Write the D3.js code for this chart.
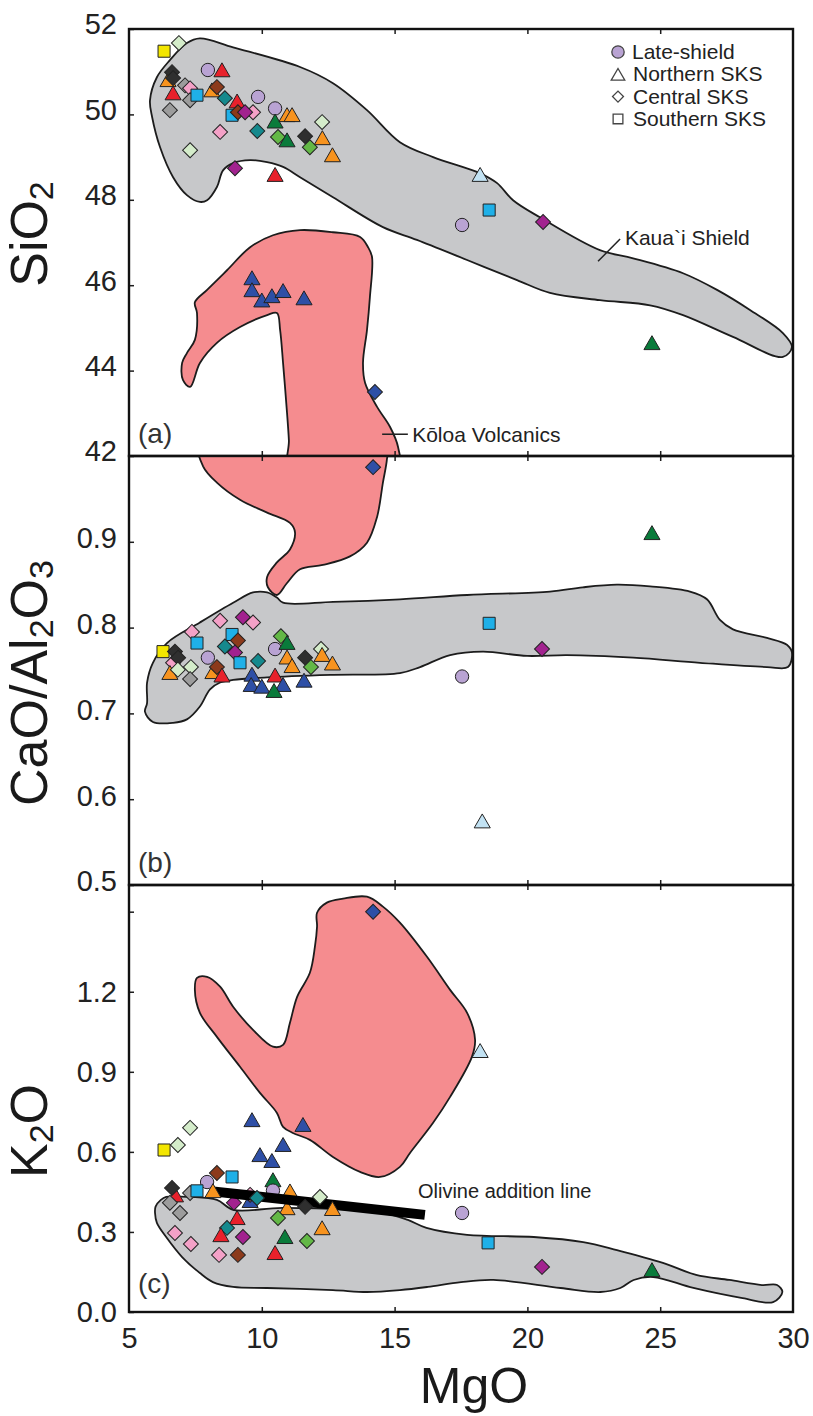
<!DOCTYPE html>
<html>
<head>
<meta charset="utf-8">
<script src="https://cdn.jsdelivr.net/npm/d3@7"></script>
<style>
  body { margin: 0; background: #fff; }
  svg { display: block; font-family: 'Liberation Sans', Arial, sans-serif; }
</style>
</head>
<body>
<div id="chart"></div>
<script>
// ---- axis ticks ----
const mgoTicks = [5, 10, 15, 20, 25, 30];
const sio2Ticks = [42, 44, 46, 48, 50, 52];
const caoTicks = [0.5, 0.6, 0.7, 0.8, 0.9];
const k2oTicks = [0.0, 0.3, 0.6, 0.9, 1.2, 1.5];
const k2oLabels = [0.0, 0.3, 0.6, 0.9, 1.2];

// ---- legend ----
const legendKeys = ['L', 'N', 'C', 'S'];
const legendNames = ['Late-shield', 'Northern SKS', 'Central SKS', 'Southern SKS'];

// ---- fields (MgO, value) ----
const shieldSiO2 = [[7.67,51.78],[8.92,51.57],[11.44,51.11],[12.68,50.73],[13.96,50.10],[15.20,49.35],[16.45,49.00],[18.22,48.62],[18.86,48.39],[19.46,47.99],[20.47,47.59],[22.73,46.82],[23.98,46.63],[25.86,46.28],[27.14,45.89],[28.38,45.42],[29.62,44.88],[29.96,44.55],[29.62,44.32],[27.74,44.79],[25.86,45.30],[24.62,45.53],[22.73,45.65],[20.85,45.82],[19.61,46.12],[17.73,46.59],[15.84,47.06],[14.56,47.36],[12.68,48.06],[11.44,48.53],[10.80,48.77],[10.20,48.88],[9.56,48.93],[8.92,48.86],[8.54,48.69],[8.31,48.30],[7.94,47.99],[7.67,47.95],[7.18,48.11],[6.66,48.53],[6.17,49.23],[5.87,49.94],[5.79,50.33],[6.05,50.87],[6.54,51.27],[7.18,51.67]];
const koloaSiO2 = [[11.44,47.29],[12.68,47.24],[13.70,47.13],[14.00,46.89],[14.15,46.66],[14.07,45.72],[13.96,44.95],[13.81,44.18],[13.89,43.71],[14.34,43.15],[14.83,42.68],[15.13,42.21],[15.13,41.60],[11.06,41.60],[11.02,42.37],[10.95,43.01],[10.80,44.18],[10.69,44.95],[10.57,45.35],[10.20,45.30],[9.18,45.02],[8.31,44.65],[7.67,44.18],[7.30,43.62],[7.03,43.78],[7.00,44.18],[7.18,44.41],[7.48,44.72],[7.56,45.35],[7.48,45.60],[7.94,45.89],[8.69,46.35],[9.56,46.89],[10.42,47.17]];
const shieldCaO = [[5.68,0.712],[5.60,0.702],[5.90,0.690],[6.66,0.689],[7.18,0.693],[7.67,0.708],[8.05,0.728],[8.43,0.736],[8.92,0.739],[10.20,0.742],[12.68,0.745],[15.20,0.747],[15.96,0.754],[17.09,0.768],[18.33,0.772],[19.99,0.767],[21.49,0.768],[23.98,0.765],[26.50,0.759],[29.02,0.754],[29.81,0.754],[29.96,0.771],[29.77,0.780],[29.02,0.788],[27.74,0.798],[27.25,0.809],[26.76,0.833],[26.12,0.842],[24.62,0.848],[23.37,0.850],[22.09,0.847],[20.85,0.842],[17.73,0.838],[15.20,0.833],[12.68,0.830],[10.80,0.829],[10.57,0.835],[10.20,0.841],[9.67,0.841],[8.92,0.829],[7.67,0.806],[6.43,0.782],[5.90,0.759],[5.68,0.736]];
const koloaCaO = [[7.67,1.013],[7.79,0.988],[8.31,0.969],[9.18,0.949],[10.20,0.934],[11.06,0.922],[11.25,0.911],[11.06,0.891],[10.57,0.876],[10.20,0.859],[10.23,0.847],[10.57,0.838],[10.95,0.852],[11.44,0.868],[12.30,0.873],[13.32,0.883],[13.96,0.899],[14.34,0.929],[14.56,0.969],[14.71,0.996],[14.71,1.013]];
const shieldK2O = [[6.00,0.395],[6.20,0.420],[6.40,0.431],[7.30,0.431],[8.31,0.420],[8.92,0.383],[10.80,0.390],[14.56,0.371],[15.50,0.345],[16.20,0.315],[17.73,0.289],[20.24,0.281],[22.10,0.262],[23.37,0.232],[25.10,0.184],[26.35,0.139],[27.60,0.120],[28.83,0.101],[29.40,0.101],[29.60,0.075],[29.25,0.037],[28.10,0.052],[26.25,0.090],[24.74,0.131],[24.00,0.120],[23.50,0.090],[22.75,0.075],[21.25,0.090],[18.72,0.120],[17.50,0.112],[16.25,0.094],[15.20,0.082],[13.96,0.075],[12.68,0.082],[10.20,0.090],[8.92,0.094],[8.16,0.112],[7.67,0.146],[7.00,0.206],[6.40,0.281],[6.05,0.334],[5.98,0.371]];
const koloaK2O = [[12.08,1.496],[12.45,1.534],[13.06,1.549],[13.96,1.556],[14.56,1.519],[15.20,1.459],[16.22,1.331],[17.09,1.207],[17.73,1.121],[18.03,1.020],[17.91,0.956],[17.09,0.806],[16.45,0.709],[15.58,0.596],[15.20,0.544],[14.45,0.506],[13.70,0.525],[12.68,0.581],[11.81,0.645],[11.17,0.671],[10.80,0.694],[10.57,0.746],[9.93,0.821],[9.18,0.919],[8.31,1.031],[7.67,1.121],[7.48,1.207],[7.56,1.252],[7.94,1.256],[8.43,1.219],[8.92,1.144],[9.67,1.057],[10.42,0.994],[10.80,1.001],[11.06,1.084],[11.33,1.181],[11.81,1.271],[12.00,1.369],[12.08,1.444]];
const olivineLine = [[8.16, 0.452], [16.14, 0.364]];

// ---- samples: [MgO, value, suite, colour] ----
const sio2Pts = [
  [6.32,51.48,'S','yellow'],[6.88,51.67,'C','pale'],[6.47,50.76,'N','orange'],[6.62,50.99,'C','black'],
  [6.66,50.85,'C','black'],[7.11,50.68,'C','gray'],[7.30,50.61,'C','pink'],[6.66,50.45,'N','red'],
  [7.30,50.33,'C','gray'],[6.54,50.10,'C','gray'],[7.56,50.45,'S','cyan'],[7.30,49.16,'C','pale'],
  [7.97,51.04,'L','purple'],[8.50,50.99,'N','red'],[8.12,50.52,'N','orange'],[8.31,50.64,'C','brown'],
  [8.61,50.38,'C','teal'],[9.07,50.26,'N','red'],[8.88,49.98,'S','cyan'],[9.10,50.05,'C','brown'],
  [9.67,50.05,'C','pink'],[9.37,50.05,'C','magenta'],[8.43,49.59,'C','pink'],[9.86,50.41,'L','purple'],
  [10.50,50.14,'L','purple'],[10.50,49.79,'N','dkgreen'],[10.95,49.94,'N','orange'],[11.14,49.94,'N','orange'],
  [9.83,49.61,'C','teal'],[10.61,49.47,'C','green'],[10.95,49.35,'N','dkgreen'],[11.63,49.49,'C','black'],
  [11.81,49.23,'C','green'],[12.28,49.40,'N','orange'],[12.27,49.82,'C','pale'],[12.66,49.00,'N','orange'],
  [8.99,48.74,'C','magenta'],[10.50,48.54,'N','red'],[18.22,48.54,'N','ltblue'],[18.56,47.76,'S','cyan'],
  [17.54,47.41,'L','purple'],[20.59,47.48,'C','magenta'],[24.69,44.60,'N','dkgreen'],
  [9.63,46.12,'N','blue'],[9.63,45.84,'N','blue'],[10.00,45.60,'N','blue'],[10.38,45.70,'N','blue'],
  [10.80,45.82,'N','blue'],[11.59,45.65,'N','blue'],[14.26,43.50,'C','blue']
];
const caoPts = [
  [14.19,0.987,'C','blue'],[24.69,0.908,'N','dkgreen'],[18.56,0.805,'S','cyan'],[20.55,0.775,'C','magenta'],
  [17.54,0.743,'L','purple'],[18.30,0.572,'N','ltblue'],[6.66,0.759,'C','pink'],[6.28,0.772,'S','yellow'],
  [6.73,0.772,'C','black'],[6.85,0.765,'C','black'],[7.37,0.795,'C','pink'],[7.56,0.782,'S','cyan'],
  [6.54,0.745,'N','orange'],[8.16,0.746,'N','orange'],[6.84,0.751,'C','pale'],[7.33,0.754,'C','pale'],
  [7.30,0.740,'C','gray'],[7.97,0.765,'L','purple'],[8.31,0.754,'C','brown'],[8.50,0.742,'N','red'],
  [8.43,0.808,'C','pink'],[9.29,0.812,'C','magenta'],[9.67,0.806,'C','pink'],[8.88,0.792,'S','cyan'],
  [9.10,0.785,'C','brown'],[8.61,0.778,'C','teal'],[8.99,0.771,'C','magenta'],[9.18,0.759,'S','cyan'],
  [9.86,0.761,'C','teal'],[10.50,0.775,'L','purple'],[10.72,0.790,'C','green'],[10.95,0.780,'N','dkgreen'],
  [10.95,0.763,'N','orange'],[11.14,0.753,'N','orange'],[11.63,0.765,'C','black'],[11.85,0.754,'C','green'],
  [12.23,0.775,'C','pale'],[12.27,0.766,'N','orange'],[12.66,0.756,'N','orange'],[10.50,0.742,'N','red'],
  [9.63,0.743,'N','blue'],[9.60,0.731,'N','blue'],[10.00,0.729,'N','blue'],[10.80,0.731,'N','blue'],
  [11.59,0.736,'N','blue'],[10.46,0.724,'N','dkgreen']
];
// drawn under the olivine addition line
const k2oPts = [
  [14.19,1.50,'C','blue'],[18.22,0.971,'N','ltblue'],[11.55,0.694,'N','blue'],[9.63,0.712,'N','blue'],
  [7.30,0.690,'C','pale'],[6.84,0.626,'C','pale'],[6.32,0.607,'S','yellow'],[9.93,0.581,'N','blue'],
  [10.38,0.559,'N','blue'],[10.80,0.619,'N','blue'],[17.54,0.371,'L','purple'],[18.52,0.259,'S','cyan'],
  [20.55,0.169,'C','magenta'],[24.69,0.150,'N','dkgreen'],[6.75,0.430,'N','red'],[6.62,0.465,'C','black'],
  [6.54,0.409,'C','gray'],[6.92,0.371,'C','gray'],[7.94,0.487,'L','purple'],[8.31,0.521,'C','brown'],
  [8.88,0.506,'S','cyan'],[8.95,0.409,'C','magenta'],[9.07,0.345,'N','red'],[8.69,0.315,'C','teal'],
  [8.46,0.281,'N','red'],[9.29,0.281,'C','magenta'],[6.73,0.296,'C','pink'],[7.33,0.255,'C','pink'],
  [8.39,0.214,'C','pink'],[9.10,0.214,'C','brown'],[10.50,0.214,'N','red'],[10.42,0.487,'N','dkgreen'],
  [9.56,0.409,'N','blue'],[9.56,0.439,'C','pink'],[10.42,0.455,'L','purple'],[11.06,0.445,'N','orange'],
  [10.95,0.382,'N','orange'],[10.61,0.352,'C','green'],[12.27,0.307,'N','orange'],[10.87,0.274,'N','dkgreen'],
  [11.70,0.266,'C','green']
];
// drawn over the olivine addition line
const k2oTopPts = [
  [7.30,0.446,'C','gray'],[7.56,0.454,'S','cyan'],[8.16,0.446,'N','orange'],[9.82,0.427,'C','teal'],
  [11.63,0.394,'C','black'],[12.19,0.431,'C','pale'],[12.66,0.379,'N','orange']
];

const colourKeys = ['yellow','pale','black','gray','pink','red','orange','cyan','purple','brown','teal','magenta','dkgreen','green','blue','ltblue'];
const colourValues = ['#f3e600','#d4ecca','#2f2f2f','#9c9c9c','#f4a1c7','#e8212b','#f7931e','#1fb0e8','#b9a3d3','#8c3a1b','#15898d','#a2228f','#0a7b3b','#63b846','#2e4fa6','#c2e2f3'];

const colour = d3.scaleOrdinal().domain(colourKeys).range(colourValues);
const shape = d3.scaleOrdinal().domain(['L','N','C','S']).range([d3.symbolCircle, d3.symbolTriangle, d3.symbolSquare, d3.symbolSquare]);
const size = d3.scaleOrdinal().domain(['L','N','C','S']).range([140, 112, 112, 145]);

const plotLeft = 129, plotRight = 793;
const svg = d3.select('div#chart')
  .append('svg')
    .attr('width', 813)
    .attr('height', 1416);

const x = d3.scaleLinear().domain([5, 30]).range([plotLeft, plotRight]);
const ySi = d3.scaleLinear().domain([42, 52]).range([456, 29]);
const yCa = d3.scaleLinear().domain([0.5, 1.0]).range([885, 456]);
const yK = d3.scaleLinear().domain([0, 1.6]).range([1312, 885]);

const outline = '#1c1c1c';
const field = d3.line().curve(d3.curveCatmullRomClosed.alpha(0.5));

function drawMarks(g, pts, y) {
  g.append('g')
    .selectAll('path')
    .data(pts)
    .enter()
    .append('path')
      .attr('transform', d => 'translate(' + x(d[0]) + ',' + y(d[1]) + ')' + (d[2] === 'C' ? ' rotate(45)' : ''))
      .attr('d', d => d3.symbol(shape(d[2]), size(d[2]))())
      .attr('fill', d => colour(d[3]))
      .attr('stroke', '#222')
      .attr('stroke-width', 1);
}

function drawPanel(p) {
  const top = p.y.range()[1], bottom = p.y.range()[0];
  svg.append('clipPath').attr('id', 'clip-' + p.id)
    .append('rect')
      .attr('x', plotLeft).attr('y', top)
      .attr('width', plotRight - plotLeft).attr('height', bottom - top);

  const g = svg.append('g').attr('clip-path', 'url(#clip-' + p.id + ')');

  g.append('path')
    .attr('d', field(p.shield.map(d => [x(d[0]), p.y(d[1])])))
    .attr('fill', '#c7c8ca')
    .attr('stroke', outline)
    .attr('stroke-width', 1.8);
  g.append('path')
    .attr('d', field(p.koloa.map(d => [x(d[0]), p.y(d[1])])))
    .attr('fill', '#f58c8f')
    .attr('stroke', outline)
    .attr('stroke-width', 1.8);

  p.layers(g);

  // left axis, inward ticks
  const yAxis = svg.append('g')
    .attr('transform', 'translate(' + plotLeft + ',0)')
    .call(d3.axisLeft(p.y).tickValues(p.ticks).tickSize(-5).tickPadding(12)
      .tickFormat(d => p.labels.includes(d) ? p.format(d) : ''));
  yAxis.select('.domain').remove();
  yAxis.selectAll('line').attr('stroke', outline).attr('stroke-width', 1.5);
  yAxis.selectAll('text')
    .attr('dy', p.dy)
    .attr('fill', '#222')
    .style('font-size', '29px')
    .style('font-family', 'Liberation Sans, Arial, sans-serif');

  // inner ticks along top and bottom of the panel
  const inner = mgoTicks.slice(1, -1);
  const bAxis = svg.append('g')
    .attr('transform', 'translate(0,' + bottom + ')')
    .call(d3.axisBottom(x).tickValues(inner).tickSize(-5).tickFormat(''));
  const tAxis = svg.append('g')
    .attr('transform', 'translate(0,' + top + ')')
    .call(d3.axisTop(x).tickValues(inner).tickSize(-5).tickFormat(''));
  [bAxis, tAxis].forEach(a => {
    a.select('.domain').remove();
    a.selectAll('line').attr('stroke', outline).attr('stroke-width', 1.5);
  });

  svg.append('rect')
    .attr('x', plotLeft).attr('y', top)
    .attr('width', plotRight - plotLeft).attr('height', bottom - top)
    .attr('fill', 'none')
    .attr('stroke', '#111')
    .attr('stroke-width', 2.4);

  svg.append('text')
    .attr('x', x(5.34))
    .attr('y', p.y(p.labelAt))
    .attr('fill', '#333')
    .style('font-size', '28px')
    .text('(' + p.id + ')');

  // rotated axis title with subscripts
  const t = svg.append('text')
    .attr('transform', 'translate(53,' + p.titleY + ') rotate(-90)')
    .attr('text-anchor', 'middle')
    .attr('fill', '#1a1a1a')
    .style('font-size', '52px');
  p.title.forEach(part => {
    t.append('tspan')
      .attr('dy', part[1] ? 6 : (t.node().childNodes.length ? -6 : 0))
      .style('font-size', part[1] ? '34px' : '52px')
      .text(part[0]);
  });
}

drawPanel({
  id: 'a', y: ySi, ticks: sio2Ticks, labels: sio2Ticks, format: d3.format('d'), dy: '0.17em',
  shield: shieldSiO2, koloa: koloaSiO2, labelAt: 42.3, titleY: 234,
  title: [['SiO', false], ['2', true]],
  layers: g => drawMarks(g, sio2Pts, ySi)
});
drawPanel({
  id: 'b', y: yCa, ticks: caoTicks, labels: caoTicks, format: d3.format('.1f'), dy: '0.2em',
  shield: shieldCaO, koloa: koloaCaO, labelAt: 0.515, titleY: 683,
  title: [['CaO/Al', false], ['2', true], ['O', false], ['3', true]],
  layers: g => drawMarks(g, caoPts, yCa)
});
drawPanel({
  id: 'c', y: yK, ticks: k2oTicks, labels: k2oLabels, format: d3.format('.1f'), dy: '0.32em',
  shield: shieldK2O, koloa: koloaK2O, labelAt: 0.071, titleY: 1131,
  title: [['K', false], ['2', true], ['O', false]],
  layers: g => {
    drawMarks(g, k2oPts, yK);
    g.append('path')
      .attr('d', d3.line().x(d => x(d[0])).y(d => yK(d[1]))(olivineLine))
      .attr('stroke', '#000')
      .attr('stroke-width', 10)
      .attr('fill', 'none');
    drawMarks(g, k2oTopPts, yK);
  }
});

// MgO axis labels
const xAxis = svg.append('g')
  .attr('transform', 'translate(0,1312)')
  .call(d3.axisBottom(x).tickValues(mgoTicks).tickSize(0).tickPadding(15).tickFormat(d3.format('d')));
xAxis.select('.domain').remove();
xAxis.selectAll('text')
  .attr('fill', '#222')
  .style('font-size', '29px')
  .style('font-family', 'Liberation Sans, Arial, sans-serif');

svg.append('text')
  .attr('x', 474)
  .attr('y', 1403)
  .attr('text-anchor', 'middle')
  .attr('fill', '#1a1a1a')
  .style('font-size', '50px')
  .text('MgO');

// annotations
const noteStyle = 'font-size:21px; fill:#222;';
svg.append('line')
  .attr('x1', x(23.49)).attr('y1', ySi(47.08))
  .attr('x2', x(22.66)).attr('y2', ySi(46.56))
  .attr('stroke', '#222').attr('stroke-width', 1.5);
svg.append('text')
  .attr('x', x(23.67)).attr('y', ySi(46.94))
  .attr('style', noteStyle)
  .text('Kaua`i Shield');
svg.append('line')
  .attr('x1', x(14.53)).attr('y1', ySi(42.51))
  .attr('x2', x(15.50)).attr('y2', ySi(42.51))
  .attr('stroke', '#222').attr('stroke-width', 1.5);
svg.append('text')
  .attr('x', x(15.66)).attr('y', ySi(42.33))
  .attr('style', noteStyle)
  .text('Kōloa Volcanics');
svg.append('text')
  .attr('x', x(15.88)).attr('y', yK(0.427))
  .attr('style', 'font-size:20px; fill:#222;')
  .text('Olivine addition line');

// legend
const legend = svg.append('g').attr('transform', 'translate(618,52)');
legend.selectAll('path')
  .data(legendKeys)
  .enter()
  .append('path')
    .attr('transform', (d, i) => 'translate(0,' + (i * 22.3 + (d === 'N' ? 2 : 0)) + ')' + (d === 'C' ? ' rotate(45)' : ''))
    .attr('d', d => d3.symbol(shape(d), d === 'L' ? 120 : d === 'N' ? 80 : d === 'C' ? 60 : 95)())
    .attr('fill', d => d === 'L' ? colour('purple') : '#fff')
    .attr('stroke', '#444')
    .attr('stroke-width', 1.3);
legend.selectAll('text')
  .data(legendNames)
  .enter()
  .append('text')
    .attr('x', (d, i) => i === 0 ? 14 : 15)
    .attr('y', (d, i) => i * 22.3 + 7)
    .attr('style', 'font-size:21px; fill:#222;')
    .text(d => d);
</script>
</body>
</html>
